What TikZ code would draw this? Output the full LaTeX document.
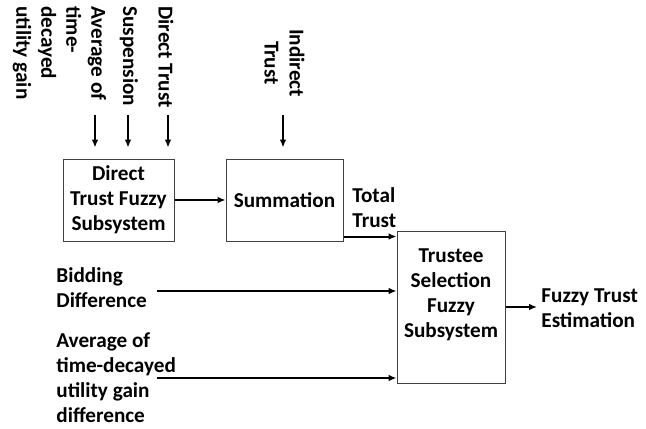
\documentclass[tikz,border=0pt]{standalone}
\usepackage{fontspec}
\setmainfont{Carlito}
\usetikzlibrary{arrows.meta,positioning}

\begin{document}
\begin{tikzpicture}[x=0.5pt,y=-0.5pt,
    txt/.style={font=\bfseries\fontsize{10.6}{12.5}\selectfont, inner sep=0pt},
    blk/.style={txt, draw=black!75, line width=0.5pt, align=center},
    vtxt/.style={txt, rotate=-90, anchor=west},
    arr/.style={line width=1pt, -{Latex[length=4pt,width=3.4pt]}}]
    \useasboundingbox (0,0) rectangle (646,428);

    \node[blk, minimum width=55.5pt, minimum height=41pt] (dtfs) at (118.5,200) {Direct\\Trust Fuzzy\\Subsystem};
    \node[blk, minimum width=58.5pt, minimum height=41pt] (sum) at (284.5,200) {Summation};
    \node[blk, minimum width=54pt, minimum height=76pt] (tsfs) at (451,307) {};
    \node[txt, align=center] (tsfslbl) at (451,295) {Trustee\\Selection\\Fuzzy\\Subsystem};

    \node[vtxt, align=left] (avg) at (59.5,6) {Average of\\time-\\decayed\\utility gain};
    \node[vtxt] (susp) at (129,6) {Suspension};
    \node[vtxt] (dir) at (166,6) {Direct Trust};
    \node[txt, rotate=-90, align=center] (ind) at (284.5,63) {Indirect\\Trust};

    \node[txt, align=left, anchor=west] (bid) at (56,287.5) {Bidding\\Difference};
    \node[txt, align=left, anchor=west] (util) at (56,377.5) {Average of\\time-decayed\\utility gain\\difference};
    \node[txt, align=left, anchor=west] (total) at (352,207.5) {Total\\Trust};
    \node[txt, align=left, anchor=west] (est) at (541,308.5) {Fuzzy Trust\\Estimation};

    \coordinate (in1) at (95,115);
    \coordinate (in2) at (128,115);
    \coordinate (in3) at (168,115);
    \coordinate (in4) at (283,115);
    \coordinate (bidin) at (157,291);
    \coordinate (utilin) at (157,378);

    \foreach \n in {in1,in2,in3}
        \draw[arr, shorten >=5.5pt] (\n) -- (\n |- dtfs.north);
    \draw[arr, shorten >=5.5pt] (in4) -- (in4 |- sum.north);

    \draw[arr] (dtfs.east) -- (sum.west);
    \draw[arr] ([yshift=2.5pt]sum.south east) -- ([yshift=2.5pt]sum.south east -| tsfs.west);
    \draw[arr] (bidin) -- (bidin -| tsfs.west);
    \draw[arr] (utilin) -- (utilin -| tsfs.west);
    \draw[arr, shorten >=2pt] (tsfs.east) -- (tsfs.east -| est.west);
\end{tikzpicture}
\end{document}
